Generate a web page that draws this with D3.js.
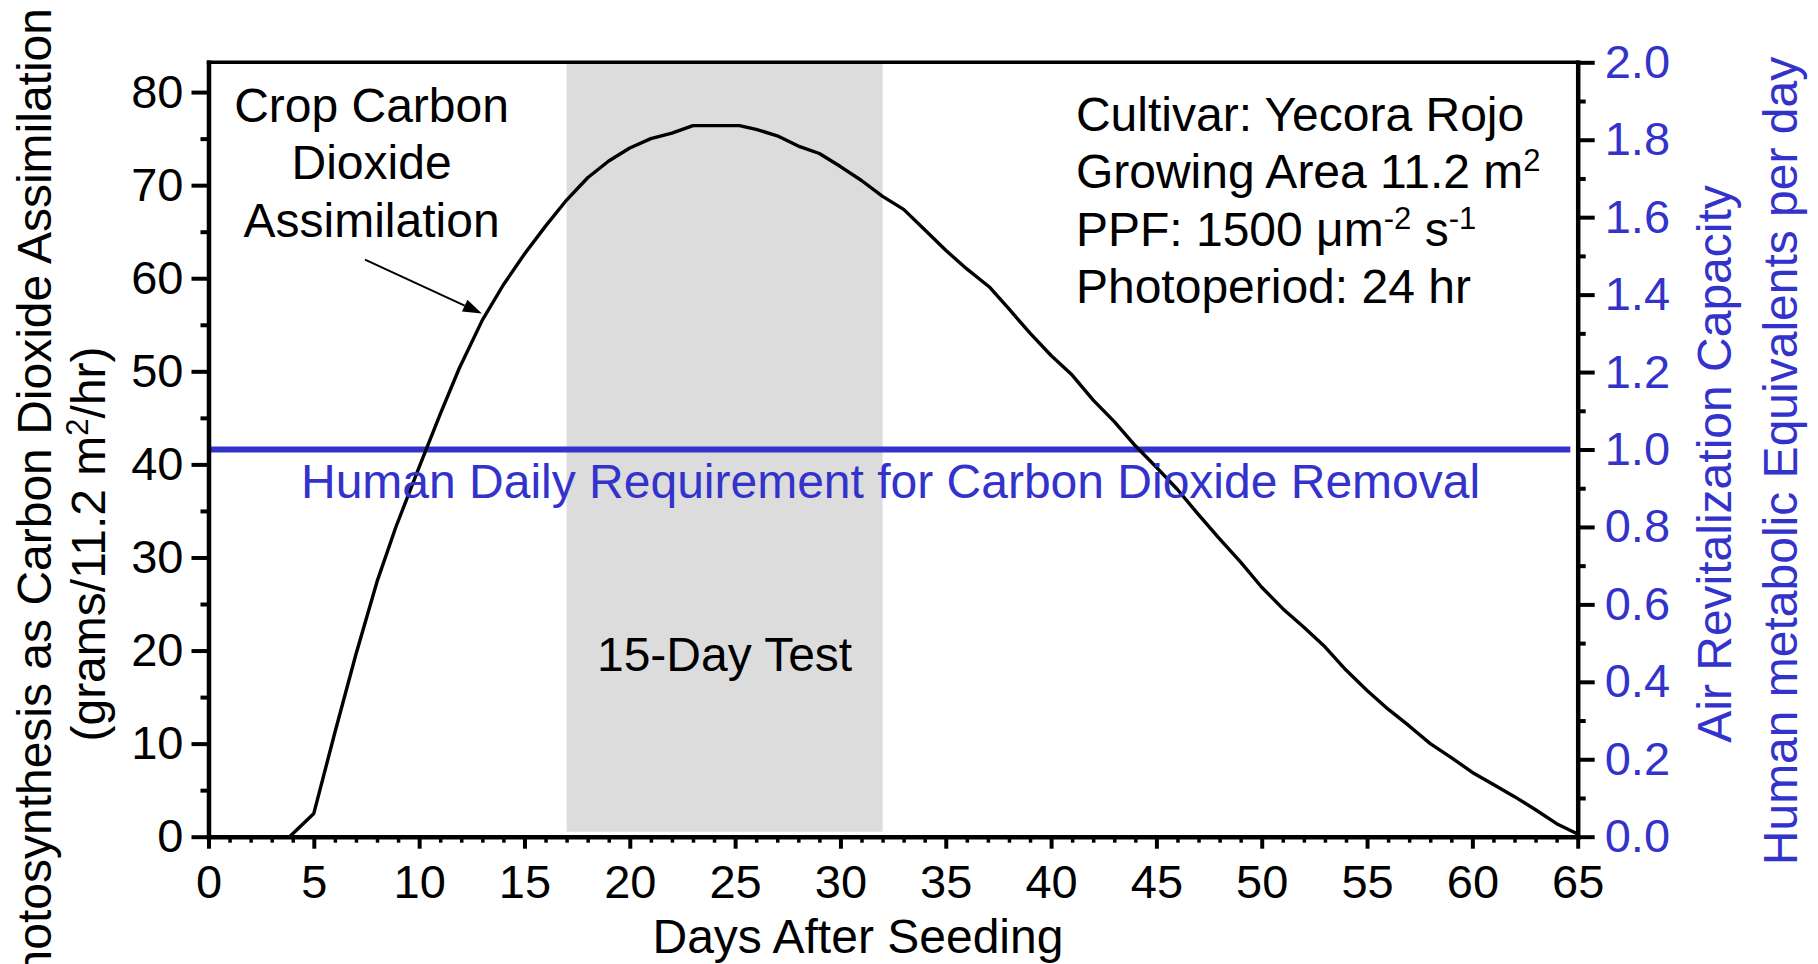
<!DOCTYPE html>
<html><head><meta charset="utf-8">
<script src="https://cdn.jsdelivr.net/npm/d3@7"></script>
<style>
html,body{margin:0;padding:0;background:#fff;}
svg{display:block;}
</style>
</head><body>
<svg id="chart" width="1818" height="964"></svg>
<script>
// ---------------- data ----------------
const days = [3.85, 5, 6, 7, 8, 8.9, 10, 11, 11.9, 13, 14, 15, 16, 17, 18, 19, 20, 21, 22, 23, 24, 25.2,
  26, 27, 28, 29, 30, 31, 32, 33, 34, 35, 36, 37.1, 38, 39, 40, 41, 42, 43, 44, 45, 46, 47, 48, 49, 50,
  51, 52, 53, 54, 55, 56, 57, 58, 59, 60, 61, 62, 63, 64, 65];
const assimilation = [0, 2.5, 11.2, 19.6, 27.4, 33.3, 39.7, 45.4, 50.3, 55.5, 59.3, 62.6, 65.6, 68.4, 70.8, 72.6, 74.0, 75.0, 75.6, 76.4, 76.4, 76.4,
  76.0, 75.3, 74.2, 73.4, 72.0, 70.5, 68.8, 67.4, 65.2, 63.0, 61.0, 59.0, 56.7, 54.1, 51.7, 49.6, 46.9, 44.6, 42.0, 39.7, 37.3, 34.6, 32.0, 29.5, 26.8,
  24.5, 22.5, 20.4, 17.9, 15.7, 13.7, 11.9, 10.0, 8.5, 6.9, 5.6, 4.3, 2.9, 1.4, 0.3];
const humanRequirement = [1.0];          // human metabolic equivalents per day
const testWindow = [17, 32];             // 15-day test, days after seeding
const xTicks = [0, 5, 10, 15, 20, 25, 30, 35, 40, 45, 50, 55, 60, 65];
const xMinorTicks = d3.range(0, 66, 1).filter(d => d % 5 !== 0);
const yLeftTicks = [0, 10, 20, 30, 40, 50, 60, 70, 80];
const yLeftMinorTicks = [5, 15, 25, 35, 45, 55, 65, 75];
const yRightTicks = [0, 0.2, 0.4, 0.6, 0.8, 1.0, 1.2, 1.4, 1.6, 1.8, 2.0];
const yRightMinorTicks = [0.1, 0.3, 0.5, 0.7, 0.9, 1.1, 1.3, 1.5, 1.7, 1.9];
const curveLabel = ["Crop Carbon", "Dioxide", "Assimilation"];
const xTitle = "Days After Seeding";
const yLeftTitle = ["Photosynthesis as Carbon Dioxide Assimilation", "(grams/11.2 m", "2", "/hr)"];
const yRightTitle = ["Air Revitalization Capacity", "Human metabolic Equivalents per day"];
const humanLabel = "Human Daily Requirement for Carbon Dioxide Removal";
const testLabel = "15-Day Test";

// ---------------- setup ----------------
const FONT = '"Liberation Sans", Arial, Helvetica, sans-serif';
const BLUE = "#3333CC";
const FS_TICK = 47;
const FS = 48;
const svg = d3.select("#chart");

const x = d3.scaleLinear().domain([0, 65]).range([208.5, 1577.7]);
const yL = d3.scaleLinear().domain([0, 83.2]).range([836.7, 62.3]);
const yR = d3.scaleLinear().domain([0, 2]).range([836.7, 62.3]);
const plotTop = yL.range()[1], plotBottom = yL.range()[0];

// shaded test window
svg.append("rect")
  .attr("x", x(testWindow[0])).attr("width", x(testWindow[1]) - x(testWindow[0]))
  .attr("y", plotTop).attr("height", plotBottom - 5 - plotTop)
  .attr("fill", "#DCDCDC");

// human requirement line
svg.selectAll("line.req").data(humanRequirement).join("line")
  .attr("class", "req")
  .attr("x1", x(0)).attr("x2", x(64.65))
  .attr("y1", d => yR(d)).attr("y2", d => yR(d))
  .attr("stroke", BLUE).attr("stroke-width", 6);

// curve
const pts = days.map((d, i) => [d, assimilation[i]]);
svg.append("path").datum(pts)
  .attr("fill", "none").attr("stroke", "#000").attr("stroke-width", 3.4)
  .attr("stroke-linejoin", "round")
  .attr("d", d3.line().x(d => x(d[0])).y(d => yL(d[1])));

// axes
function styleAxis(g, color) {
  g.attr("font-family", FONT).attr("font-size", FS_TICK);
  g.select(".domain").attr("stroke", "#000").attr("stroke-width", 4.5).attr("stroke-linecap", "square");
  g.selectAll(".tick line").attr("stroke", "#000").attr("stroke-width", 4);
  g.selectAll(".tick text").attr("fill", color);
}
const gx = svg.append("g").attr("transform", `translate(0,${plotBottom})`)
  .call(d3.axisBottom(x).tickValues(xTicks).tickSize(12).tickSizeOuter(0).tickPadding(16).tickFormat(d3.format("d")));
styleAxis(gx, "#000");
const gxm = svg.append("g").attr("transform", `translate(0,${plotBottom})`)
  .call(d3.axisBottom(x).tickValues(xMinorTicks).tickSize(6).tickSizeOuter(0).tickFormat(""));
styleAxis(gxm, "#000"); gxm.select(".domain").remove();
gxm.selectAll(".tick line").attr("stroke-width", 3.5);

const gl = svg.append("g").attr("transform", `translate(${x(0)},0)`)
  .call(d3.axisLeft(yL).tickValues(yLeftTicks).tickSize(17).tickSizeOuter(0).tickPadding(8).tickFormat(d3.format("d")));
styleAxis(gl, "#000");
const glm = svg.append("g").attr("transform", `translate(${x(0)},0)`)
  .call(d3.axisLeft(yL).tickValues(yLeftMinorTicks).tickSize(8).tickSizeOuter(0).tickFormat(""));
styleAxis(glm, "#000"); glm.select(".domain").remove();

const gr = svg.append("g").attr("transform", `translate(${x(65)},0)`)
  .call(d3.axisRight(yR).tickValues(yRightTicks).tickSize(17).tickSizeOuter(0).tickPadding(10).tickFormat(d3.format(".1f")));
styleAxis(gr, BLUE);
const grm = svg.append("g").attr("transform", `translate(${x(65)},0)`)
  .call(d3.axisRight(yR).tickValues(yRightMinorTicks).tickSize(8).tickSizeOuter(0).tickFormat(""));
styleAxis(grm, BLUE); grm.select(".domain").remove();

// top frame line
svg.append("line").attr("x1", x(0)).attr("x2", x(65)).attr("y1", plotTop).attr("y2", plotTop)
  .attr("stroke", "#000").attr("stroke-width", 3.5).attr("stroke-linecap", "square");

// ---------------- text ----------------
function txt(xp, yp, s, opts = {}) {
  return svg.append("text").attr("x", xp).attr("y", yp)
    .attr("font-family", FONT).attr("font-size", opts.size || FS)
    .attr("fill", opts.fill || "#000").attr("text-anchor", opts.anchor || "start")
    .text(s);
}
// curve label
curveLabel.forEach((s, i) => txt(x(7.74), yL(76.8) + i * 57.5, s, {anchor: "middle"}));

// arrow
{
  const x1 = x(7.43), y1 = yL(62.0), x2 = x(12.98), y2 = yL(56.2);
  const ang = Math.atan2(y2 - y1, x2 - x1), L = 19, W = 6.5;
  const bx = x2 - L * Math.cos(ang), by = y2 - L * Math.sin(ang);
  svg.append("line").attr("x1", x1).attr("y1", y1).attr("x2", bx).attr("y2", by)
    .attr("stroke", "#000").attr("stroke-width", 2);
  svg.append("path").attr("fill", "#000")
    .attr("d", `M${x2},${y2}L${bx + W * Math.sin(ang)},${by - W * Math.cos(ang)}L${bx - W * Math.sin(ang)},${by + W * Math.cos(ang)}Z`);
}

// conditions block
{
  const lx = x(41.18), b0 = yL(75.8), dy = 57.2;
  txt(lx, b0, "Cultivar: Yecora Rojo");
  const t2 = txt(lx, b0 + dy, "Growing Area 11.2 m");
  t2.append("tspan").attr("dy", -17).attr("font-size", 31).text("2");
  const t3 = txt(lx, b0 + 2 * dy, "PPF: 1500 μm");
  t3.append("tspan").attr("dy", -17).attr("font-size", 31).text("-2");
  t3.append("tspan").attr("dy", 17).text(" s");
  t3.append("tspan").attr("dy", -17).attr("font-size", 31).text("-1");
  txt(lx, b0 + 3 * dy, "Photoperiod: 24 hr");
}

// 15-day test label
txt(x((testWindow[0] + testWindow[1]) / 2), yL(17.83), testLabel, {anchor: "middle"});

// human requirement label
txt(x(32.38), yR(humanRequirement[0]) + 48, humanLabel, {anchor: "middle", fill: BLUE});

// x title
txt(x(30.83), 953, xTitle, {anchor: "middle", size: 48});

// left y title
svg.append("text").attr("transform", "translate(51.4,8) rotate(-90)")
  .attr("font-family", FONT).attr("font-size", 48).attr("text-anchor", "end")
  .text(yLeftTitle[0]);
{
  const t = svg.append("text").attr("transform", "translate(105,544) rotate(-90)")
    .attr("font-family", FONT).attr("font-size", 48).attr("text-anchor", "middle");
  t.append("tspan").text(yLeftTitle[1]);
  t.append("tspan").attr("dy", -17).attr("font-size", 31).text(yLeftTitle[2]);
  t.append("tspan").attr("dy", 17).text(yLeftTitle[3]);
}
// right y titles
svg.append("text").attr("transform", "translate(1731,464) rotate(-90)")
  .attr("font-family", FONT).attr("font-size", 48).attr("text-anchor", "middle")
  .attr("fill", BLUE).text(yRightTitle[0]);
svg.append("text").attr("transform", "translate(1797,461) rotate(-90)")
  .attr("font-family", FONT).attr("font-size", 48).attr("text-anchor", "middle")
  .attr("fill", BLUE).text(yRightTitle[1]);
</script>
</body></html>
